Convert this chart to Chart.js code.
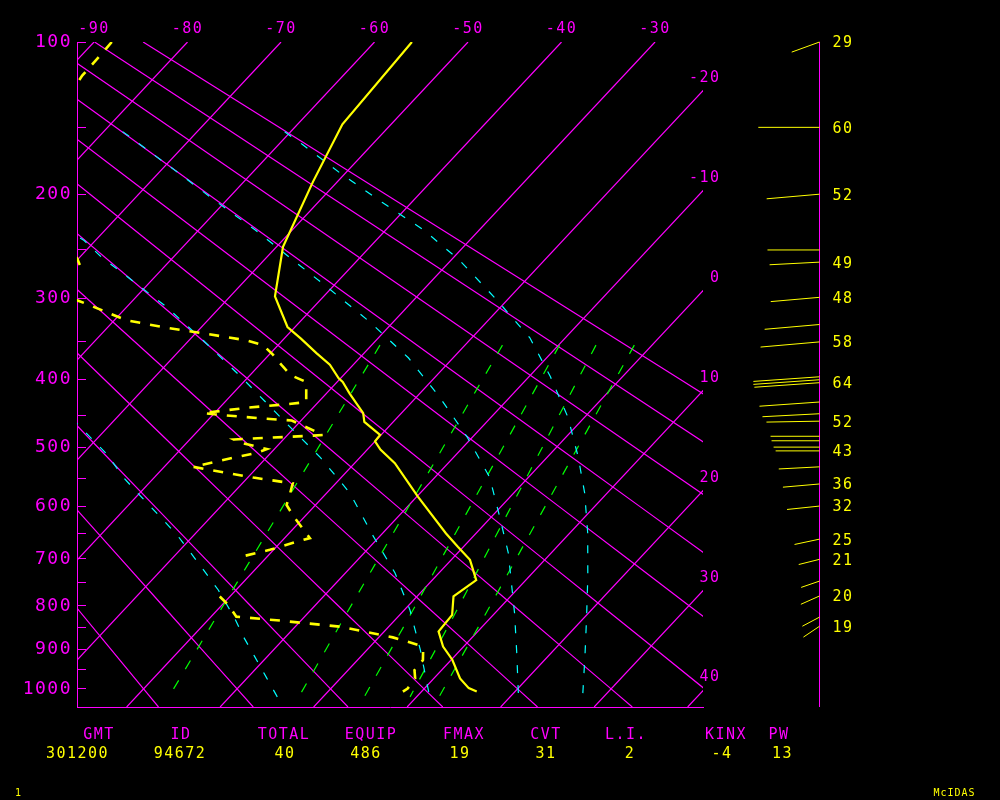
<!DOCTYPE html>
<html>
<head>
<meta charset="utf-8">
<title>Skew-T 94672 301200</title>
<script src="https://cdn.jsdelivr.net/npm/chart.js@4.4.0/dist/chart.umd.min.js"></script>
<style>
  html, body { margin: 0; padding: 0; background: #000; }
  #wrap { width: 1000px; height: 800px; }
</style>
</head>
<body>
<div id="wrap"><canvas id="skewt" width="1000" height="800"></canvas></div>
<script>
// ---- sounding data ----
const tempP = [100, 148, 190, 247, 298, 333, 347, 365, 380, 398, 403, 419, 447, 460, 480, 490, 503, 525, 582, 650, 676, 702, 744, 779, 820, 858, 894, 926, 973, 998, 1007];
const tempT = [-56.0, -55.2, -52.6, -49.3, -45.2, -40.8, -38.2, -35.1, -32.5, -30.2, -29.4, -27.5, -24.1, -23.1, -20.1, -20.0, -18.6, -15.7, -9.9, -3.2, -0.6, 2.0, 4.7, 3.9, 5.6, 5.8, 7.8, 10.1, 12.8, 14.7, 15.9];

// dewpoint, null = missing level
const dewP = [100, 107, 118, 122, 150, 200, 240, 258, 265, 285, 306, 311, 325, 334, 341, 349, 355, 367, 382, 394, 403, 431, 434, 439, 447, 450, 455, 458, 480, 481, 484, 487, 492, 502, 508, 521, 531, 537, 549, 559, 576, 597, 618, 659, 662, 682, 694, 740, 779, 798, 824, 833, 847, 872, 890, 902, 927, 952, 973, 999, 1007];
const dewT = [-88.1, -88.0, -87.9, -87.7, -88.0, -84.0, -75.0, -70.2, -69.2, -72.0, -64.7, -63.1, -58.7, -53.6, -48.9, -43.9, -41.6, -39.6, -37.4, -35.6, -33.3, -31.3, -33.0, -36.9, -41.2, -38.9, -34.3, -31.0, -26.2, -27.2, -31.3, -35.3, -34.3, -30.8, -31.5, -34.7, -36.9, -34.4, -29.4, -24.6, -23.9, -23.1, -21.2, -17.3, -17.8, -20.4, -22.5, null, -21.1, -19.3, -17.3, -12.2, -5.2, 1.5, 5.0, 6.0, 7.0, 7.1, 8.0, 8.2, 8.0];

// cyan dashed saturated adiabats
const moistA_P = [1021, 969, 919, 871, 825, 765, 733, 692, 653, 619, 576, 548, 511, 478, 463, 440];
const moistA_T = [-4.9, -8.1, -11.3, -14.5, -17.5, -21.9, -24.6, -28.2, -31.8, -35.4, -40.2, -43.4, -47.3, -51.6, -53.6, -57.0];
const moistB_P = [1008, 902, 809, 729, 653, 576, 516, 457, 398, 349, 309, 275, 257, 241, 225];
const moistB_T = [10.8, 5.7, 0.6, -4.7, -10.9, -17.5, -24.2, -32.0, -40.5, -48.5, -55.9, -63.4, -67.7, -71.2, -76.0];
const moistC_P = [1011, 909, 816, 688, 619, 548, 483, 425, 371, 327, 290, 257, 231, 205, 181, 159, 149];
const moistC_T = [20.5, 16.3, 12.1, 5.4, 0.9, -4.2, -10.6, -17.4, -24.8, -32.5, -40.1, -47.6, -54.0, -61.3, -68.5, -75.8, -79.4];
const moistD_P = [1011, 919, 825, 737, 649, 576, 515, 453, 396, 346, 302, 260, 231, 207, 183, 162, 152];
const moistD_T = [27.4, 24.0, 20.2, 16.3, 11.9, 7.6, 3.3, -1.8, -7.7, -13.8, -21.1, -29.1, -36.0, -43.1, -50.6, -57.4, -61.0];

// green dashed mixing ratio lines (1, 3, 5, 7, 9 g/kg)
const mixP = [355, 813, 1021];
const mix1T = [-29.1, -19.6, -16.5];
const mix3T = [-16.0, -5.9, -2.6];
const mix5T = [-9.9, 1.0, 4.4];
const mix7T = [-6.0, 5.7, 9.3];
const mix9T = [-1.9, 9.0, 12.4];

// background lines
const isoT = [-90, -80, -70, -60, -50, -40, -30, -20, -10, 0, 10, 20, 30, 40];
const thetaC = [-20, -10, 0, 10, 20, 30, 40, 50, 60, 70, 80, 90];

// tick labels
const topTicksT = [-90, -80, -70, -60, -50, -40, -30];
const rightTicksT = [-20, -10, 0, 10, 20, 30, 40];
const pressTicks = [100, 150, 200, 250, 300, 350, 400, 450, 500, 550, 600, 650, 700, 750, 800, 850, 900, 950, 1000];

// winds
const windP = [100, 150, 200, 250, 262, 299, 330, 351, 396, 400, 404, 431, 448, 459, 482, 489, 499, 505, 531, 560, 599, 661, 701, 746, 778, 825, 846];
const windSpd = [29, 60, 52, 51, 49, 48, 54, 58, 65, 65, 64, 59, 56, 52, 48, 47, 45, 43, 40, 36, 32, 25, 21, 19, 20, 19, 19];
const windDir = [250, 270, 265, 270, 267, 265, 265, 265, 266, 266, 266, 266, 267, 269, 270, 270, 270, 270, 267, 265, 264, 258, 256, 251, 246, 242, 236];
const windLabelOn = [1, 1, 1, 0, 1, 1, 0, 1, 0, 0, 1, 0, 0, 1, 0, 0, 0, 1, 0, 1, 1, 1, 1, 0, 1, 0, 1];

// stability indices
const statNames = ['GMT', 'ID', 'TOTAL', 'EQUIP', 'FMAX', 'CVT', 'L.I.', 'KINX', 'PW'];
const statValues = ['301200', '94672', '40', '486', '19', '31', '2', '-4', '13'];

// ---- diagram geometry ----
const KAPPA = 0.286;      // vertical coordinate is p^kappa
const THETA_K = 0.285;    // exponent used for the dry adiabats
const P_TOP = 100, P_BOT = 1048;
const T_LEFT = -91.82, T_RIGHT = -24.87;  // temperature at the 100 hPa edges
const SKEW = 64.7;        // isotherm shift (deg) between 100 and 1000 hPa

const MAGENTA = '#ff00ff', YELLOW = '#ffff00', CYAN = '#00ffff', GREEN = '#00ff00';
const FONT = "'DejaVu Sans Mono', monospace";

const pk = p => Math.pow(p, KAPPA);
const skewX = (t, p) => t - SKEW * (pk(p) - pk(P_TOP)) / (pk(1000) - pk(P_TOP));
const toPts = (ps, ts) => ps.map((p, i) => ts[i] === null ? { x: null, y: null } : { x: skewX(ts[i], p), y: pk(p) });

function line(data, color, width, dash, order) {
  return {
    data, borderColor: color, borderWidth: width, borderDash: dash,
    pointRadius: 0, showLine: true, tension: 0, fill: false, order,
    xAxisID: 'x', yAxisID: 'y'
  };
}

const datasets = [];
datasets.push(line(toPts(tempP, tempT), YELLOW, 2.2, [], 1));
datasets.push(line(toPts(dewP, dewT), YELLOW, 2.6, [10, 10], 2));
[[moistA_P, moistA_T], [moistB_P, moistB_T], [moistC_P, moistC_T], [moistD_P, moistD_T]].forEach(([ps, ts]) => {
  datasets.push(line(toPts(ps, ts), CYAN, 1.2, [8, 12], 3));
});
[mix1T, mix3T, mix5T, mix7T, mix9T].forEach(ts => {
  datasets.push(line(toPts(mixP, ts), GREEN, 1.2, [10, 13], 4));
});
isoT.forEach(t => {
  datasets.push(line(toPts([P_TOP, P_BOT], [t, t]), MAGENTA, 1.2, [], 5));
});
const adiabatP = [100, 150, 200, 300, 400, 500, 600, 700, 800, 900, 1000, 1048];
thetaC.forEach(th => {
  const ts = adiabatP.map(p => (th + 273.15) * Math.pow(p / 1000, THETA_K) - 273.15);
  datasets.push(line(toPts(adiabatP, ts), MAGENTA, 1.2, [], 5));
});

// text, isotherm labels on the right, winds and index table
const skewtExtras = {
  id: 'skewtExtras',
  beforeDraw(chart) {
    const ctx = chart.ctx;
    ctx.save();
    ctx.fillStyle = '#000';
    ctx.fillRect(0, 0, chart.width, chart.height);
    ctx.restore();
    ctx.letterSpacing = '1.5px';
  },
  afterDraw(chart) {
    const ctx = chart.ctx;
    const ys = chart.scales.y;
    const area = chart.chartArea;
    ctx.save();
    ctx.font = '15px ' + FONT;
    ctx.textBaseline = 'middle';

    // isotherm numbers where they leave the right edge
    ctx.fillStyle = MAGENTA;
    ctx.textAlign = 'right';
    rightTicksT.forEach(t => {
      const frac = (t - T_RIGHT) / SKEW;
      const py = ys.getPixelForValue(pk(P_TOP) + frac * (pk(1000) - pk(P_TOP)));
      ctx.fillText(String(t), area.right + 17.5, py - 13);
    });

    // wind sticks
    const ax = area.right + 116.5;
    ctx.strokeStyle = MAGENTA;
    ctx.lineWidth = 1;
    ctx.beginPath();
    ctx.moveTo(ax, area.top);
    ctx.lineTo(ax, area.bottom);
    ctx.stroke();
    ctx.strokeStyle = YELLOW;
    ctx.fillStyle = YELLOW;
    ctx.textAlign = 'left';
    windP.forEach((p, i) => {
      const py = ys.getPixelForValue(pk(p));
      const len = windSpd[i] * 1.02;
      const a = windDir[i] * Math.PI / 180;
      ctx.beginPath();
      ctx.moveTo(ax, py);
      ctx.lineTo(ax + len * Math.sin(a), py - len * Math.cos(a));
      ctx.stroke();
      if (windLabelOn[i]) ctx.fillText(String(windSpd[i]), ax + 13, py + 1.5);
    });

    // index table under the diagram
    const nameX = [99, 181, 284, 371, 464, 546, 626, 726, 779];
    const valueX = [77.5, 180, 285, 366, 460, 546, 630, 722, 782.5];
    ctx.textAlign = 'center';
    statNames.forEach((s, i) => {
      ctx.fillStyle = MAGENTA;
      ctx.fillText(s, nameX[i], 735);
      ctx.fillStyle = YELLOW;
      ctx.fillText(statValues[i], valueX[i], 754.5);
    });

    ctx.font = '10px ' + FONT;
    ctx.letterSpacing = '1px';
    ctx.fillStyle = YELLOW;
    ctx.fillText('1', 18.5, 793.5);
    ctx.fillText('McIDAS', 954.5, 793);
    ctx.restore();
  }
};

new Chart(document.getElementById('skewt'), {
  type: 'scatter',
  data: { datasets },
  options: {
    responsive: false,
    animation: false,
    devicePixelRatio: 1,
    events: [],
    layout: { padding: { left: 0, top: 0, right: 297, bottom: 0 } },
    plugins: { legend: { display: false }, tooltip: { enabled: false } },
    scales: {
      x: {
        type: 'linear', position: 'top', min: T_LEFT, max: T_RIGHT,
        afterBuildTicks: s => { s.ticks = topTicksT.map(v => ({ value: v })); },
        afterFit: s => { s.height = 42; },
        grid: { display: false, drawTicks: false },
        border: { display: false },
        ticks: {
          color: MAGENTA, font: { family: FONT, size: 15 }, padding: 4,
          autoSkip: false, maxRotation: 0, callback: v => String(v)
        }
      },
      xb: {
        type: 'linear', position: 'bottom', min: T_LEFT, max: T_RIGHT,
        afterFit: s => { s.height = 93; },
        grid: { display: false, drawTicks: false },
        border: { display: true, color: MAGENTA, width: 1 },
        ticks: { display: false }
      },
      y: {
        type: 'linear', position: 'left', reverse: true,
        min: pk(P_TOP), max: pk(P_BOT),
        afterBuildTicks: s => { s.ticks = pressTicks.map(p => ({ value: pk(p) })); },
        afterFit: s => { s.width = 77; },
        grid: { display: true, drawOnChartArea: false, drawTicks: true, tickLength: -9, color: MAGENTA, lineWidth: 1 },
        border: { display: true, color: MAGENTA, width: 1 },
        ticks: {
          color: MAGENTA, font: { family: FONT, size: 18 }, padding: 14, autoSkip: false,
          callback: v => {
            const p = Math.round(Math.pow(v, 1 / KAPPA));
            return p % 100 === 0 ? String(p) : '';
          }
        }
      }
    }
  },
  plugins: [skewtExtras]
});
</script>
</body>
</html>
